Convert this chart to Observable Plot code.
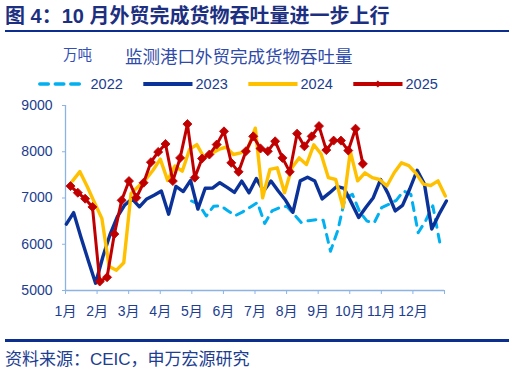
<!DOCTYPE html>
<html><head><meta charset="utf-8">
<script src="https://cdn.jsdelivr.net/npm/d3@7"></script>
<script src="https://cdn.jsdelivr.net/npm/@observablehq/plot@0.6"></script>
<style>
body{margin:0;background:#fff;}
#wrap{position:relative;width:526px;height:383px;overflow:hidden;font-family:"Liberation Sans","Noto Sans CJK SC",sans-serif;}
.abs{position:absolute;white-space:nowrap;}
</style></head><body><div id="wrap"></div>
<script>
// ---- data ----
const monthLabels = ["1月","2月","3月","4月","5月","6月","7月","8月","9月","10月","11月","12月"];
const yTicks = [5000, 6000, 7000, 8000, 9000];
const seriesNames = ["2022", "2023", "2024", "2025"];
const seriesStarts = ["2022-05-01", "2023-01-01", "2024-01-07", "2025-01-05"]; // first weekly observation
const v2022 = [6935,6860,6610,6820,6830,6720,6620,6700,6800,6900,6450,6720,6790,6820,6650,6470,6510,6530,6520,5850,6300,7000,7080,6700,6500,6470,6790,6864,6950,7150,7080,6250,6500,6830,6000];
const v2023 = [6434,6684,6150,5650,5158,5730,6220,6600,6850,6980,6810,6980,7060,7150,6650,7250,7140,7380,6760,7210,7215,7330,7230,7120,7366,7114,7420,7150,7366,7150,6950,6690,7370,7450,7366,6980,7110,7250,7210,6900,6577,6800,7006,7400,7100,6720,6840,7200,7600,7300,6330,6650,6935];
const v2024 = [7370,7570,7250,6900,6560,5520,5440,5600,7100,7250,7400,7600,7840,7380,7690,7580,8050,8155,7870,7960,8050,8100,7940,7975,8080,8510,7006,7617,7652,7114,7652,7867,7724,8150,7950,7440,7400,6800,8010,7370,7545,7440,7400,7260,7545,7760,7700,7530,7300,7270,7370,7043];
const v2025 = [7258,7114,6985,6806,5194,5286,6220,6950,7366,7006,7330,7774,7996,8168,7366,7867,8598,7440,7853,7940,8155,8441,7760,7566,8011,8333,8070,8011,8226,7867,7566,8391,8118,8333,8555,8036,8241,8241,8026,8499,7738];

const colors = ["#00B0F0", "#0a3299", "#FFC000", "#C00000"];
const textColor = "#203d8f";
const axisColor = "#8db3e2";

const parse = d3.timeParse("%Y-%m-%d");
function build(name, startStr, values) {
  const s = parse(startStr);
  const doy = d3.timeDay.count(d3.timeYear(s), s);
  return values.map((v, i) => ({series: name, x: doy + 7 * i, v}));
}
const allValues = [v2022, v2023, v2024, v2025];
const data = seriesNames.map((n, i) => build(n, seriesStarts[i], allValues[i]));

// axis geometry (day of year)
const x0 = -0.8, x1 = 362.2;
const tickPos = d3.range(13).map(k => x0 + k * (x1 - x0) / 12);
const labelFor = new Map(tickPos.map((t, i) => [t, monthLabels[i] || ""]));

const wrap = document.getElementById("wrap");

const chart = Plot.plot({
  width: 526, height: 330,
  marginTop: 105, marginBottom: 40, marginLeft: 65, marginRight: 82,
  style: {fontSize: "14px", fontFamily: '"Liberation Sans","Noto Sans CJK SC",sans-serif', color: textColor, background: "transparent"},
  x: {domain: [x0, x1]},
  y: {domain: [5000, 9000]},
  marks: [
    Plot.axisY(yTicks, {tickSize: 3, tickPadding: 10, stroke: axisColor, fill: textColor, label: null, fontSize: 14, tickFormat: d => String(d)}),
    Plot.axisX(tickPos, {tickSize: 4, tickPadding: 12, stroke: axisColor, fill: textColor, label: null, fontSize: 14, tickFormat: d => labelFor.get(d) ?? ""}),
    Plot.ruleX([x0], {y1: 5000, y2: 9000, stroke: axisColor, strokeWidth: 1.3}),
    Plot.ruleY([5000], {x1: x0, x2: x1, stroke: axisColor, strokeWidth: 1.3}),
    Plot.line(data[0], {x: "x", y: "v", stroke: colors[0], strokeWidth: 3, strokeDasharray: "8,7", strokeLinecap: "round"}),
    Plot.line(data[1], {x: "x", y: "v", stroke: colors[1], strokeWidth: 3.4}),
    Plot.line(data[2], {x: "x", y: "v", stroke: colors[2], strokeWidth: 3.4}),
    Plot.line(data[3], {x: "x", y: "v", stroke: colors[3], strokeWidth: 3}),
    Plot.dot(data[3], {x: "x", y: "v", symbol: "square", r: 3.6, rotate: 45, fill: colors[3], stroke: colors[3], strokeWidth: 0.8})
  ]
});
chart.style.position = "absolute";
chart.style.left = "0px";
chart.style.top = "0px";
wrap.appendChild(chart);

function addDiv(text, css) {
  const d = document.createElement("div");
  d.className = "abs";
  d.textContent = text;
  Object.assign(d.style, css);
  wrap.appendChild(d);
  return d;
}
addDiv("图 4：10 月外贸完成货物吞吐量进一步上行", {left: "5px", top: "6px", fontSize: "20px", lineHeight: "20px", fontWeight: "bold", color: "#1c2f80"});
addDiv("", {left: "5px", top: "29.5px", width: "504px", height: "2.5px", background: "#0b2e8f"});
addDiv("万吨", {left: "63px", top: "48px", fontSize: "14.5px", lineHeight: "14.5px", color: "#3350b8"});
addDiv("监测港口外贸完成货物吞吐量", {left: "125px", top: "48.5px", fontSize: "17.5px", lineHeight: "17.5px", color: "#2f4aa8"});
addDiv("", {left: "5px", top: "339px", width: "504px", height: "2.5px", background: "#0b2e8f"});
addDiv("资料来源：CEIC，申万宏源研究", {left: "5px", top: "351px", fontSize: "17px", lineHeight: "17px", color: textColor});

// legend
const legendItems = [
  {name: seriesNames[0], x1: 39.8, x2: 80.5, tx: 90.5},
  {name: seriesNames[1], x1: 143.3, x2: 192.5, tx: 195.5},
  {name: seriesNames[2], x1: 248.3, x2: 297.5, tx: 300.5},
  {name: seriesNames[3], x1: 353.3, x2: 402.5, tx: 405.5}
];
const ns = "http://www.w3.org/2000/svg";
const lg = document.createElementNS(ns, "svg");
lg.setAttribute("width", 526); lg.setAttribute("height", 20);
lg.style.position = "absolute"; lg.style.left = "0px"; lg.style.top = "74px";
legendItems.forEach((it, i) => {
  const ln = document.createElementNS(ns, "line");
  ln.setAttribute("x1", it.x1); ln.setAttribute("x2", it.x2);
  ln.setAttribute("y1", 10); ln.setAttribute("y2", 10);
  ln.setAttribute("stroke", colors[i]);
  ln.setAttribute("stroke-width", i === 0 ? 3.5 : 4);
  if (i === 0) { ln.setAttribute("stroke-dasharray", "8.5,7"); ln.setAttribute("stroke-linecap", "round"); }
  lg.appendChild(ln);
  if (i === 3) {
    const dm = document.createElementNS(ns, "rect");
    const cx = (it.x1 + it.x2) / 2;
    dm.setAttribute("x", cx - 2.5); dm.setAttribute("y", 7.5);
    dm.setAttribute("width", 5); dm.setAttribute("height", 5);
    dm.setAttribute("fill", colors[3]);
    dm.setAttribute("transform", `rotate(45 ${cx} 10)`);
    lg.appendChild(dm);
  }
  const t = document.createElementNS(ns, "text");
  t.setAttribute("x", it.tx); t.setAttribute("y", 15);
  t.setAttribute("fill", textColor);
  t.setAttribute("font-size", "14.5px");
  t.setAttribute("font-family", '"Liberation Sans",sans-serif');
  t.textContent = it.name;
  lg.appendChild(t);
});
wrap.appendChild(lg);
</script>
</body></html>
